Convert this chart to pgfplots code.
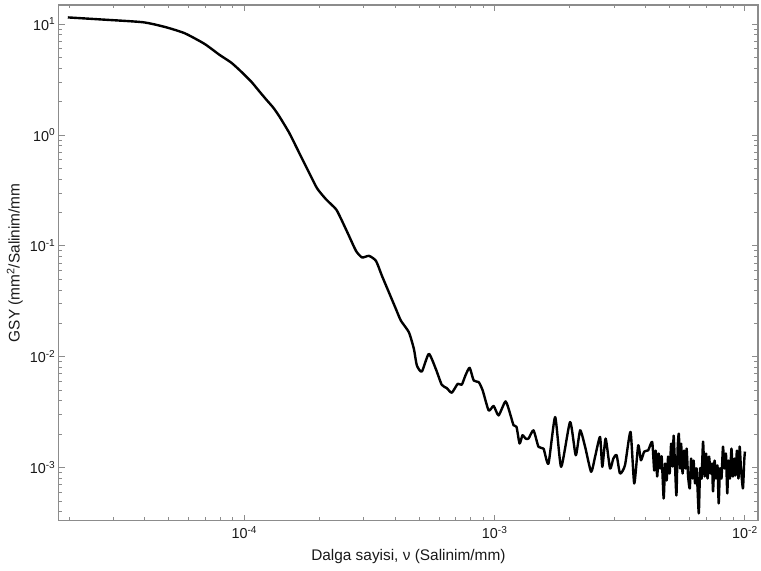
\documentclass[border=0pt]{standalone}
\usepackage{fontspec}
\setmainfont{Liberation Sans}
\usepackage{pgfplots}
\usepackage{pgfplotstable}
\pgfplotsset{compat=1.18}
\definecolor{axgray}{HTML}{8C8C8C}

% power spectral density
\pgfplotstableread{
x y
1.971e-5 11.51
2.644e-5 11.05
3.924e-5 10.42
4.800e-5 9.46
5.768e-5 8.30
6.929e-5 6.65
7.950e-5 5.30
8.875e-5 4.49
9.73e-5 3.72
1.066e-4 3.03
1.148e-4 2.477
1.224e-4 2.086
1.305e-4 1.767
1.379e-4 1.476
1.511e-4 1.047
1.656e-4 0.692
1.815e-4 0.457
1.954e-4 0.330
2.121e-4 0.263
2.326e-4 0.2138
2.457e-4 0.1678
2.620e-4 0.1230
2.794e-4 0.0901
2.952e-4 0.0787
3.148e-4 0.0813
3.357e-4 0.0733
3.547e-4 0.0537
3.782e-4 0.0381
4.033e-4 0.02697
4.222e-4 0.02116
4.544e-4 0.01664
4.757e-4 0.01178
4.890e-4 0.00834
5.120e-4 0.00736
5.458e-4 0.01062
5.819e-4 0.00778
6.149e-4 0.00559
6.438e-4 0.00522
6.741e-4 0.00474
7.122e-4 0.00571
7.388e-4 0.00559
7.664e-4 0.00688
7.950e-4 0.00795
8.248e-4 0.00611
8.636e-4 0.00591
8.959e-4 0.00497
9.465e-4 0.00328
9.908e-4 0.00360
1.037e-3 0.00296
1.106e-3 0.00396
1.158e-3 0.00296
1.190e-3 0.00241
1.223e-3 0.00233
1.258e-3 0.00165
1.292e-3 0.00196
1.329e-3 0.00183
1.366e-3 0.00183
1.430e-3 0.00217
1.497e-3 0.00154
1.568e-3 0.001485
1.641e-3 0.001089
1.745e-3 0.00286
1.844e-3 0.001017
2.002e-3 0.00258
2.109e-3 0.001293
2.196e-3 0.00217
2.299e-3 0.00154
2.429e-3 0.000917
2.519e-3 0.001251
2.637e-3 0.001892
2.693e-3 0.001017
2.776e-3 0.00183
2.891e-3 0.000982
2.980e-3 0.001208
3.072e-3 0.001293
3.169e-3 0.000885
3.317e-3 0.001051
3.491e-3 0.00210
3.612e-3 0.000719
3.747e-3 0.001590
3.842e-3 0.001165
3.959e-3 0.001396
4.107e-3 0.001434
4.261e-3 0.001706
4.341e-3 9.42e-4
4.400e-3 1.425e-3
4.461e-3 8.32e-4
4.523e-3 1.339e-3
4.586e-3 9.82e-4
4.649e-3 1.258e-3
4.735e-3 5.27e-4
4.800e-3 1.089e-3
4.867e-3 7.66e-4
4.934e-3 1.258e-3
5.003e-3 8.85e-4
5.072e-3 1.647e-3
5.143e-3 1.023e-3
5.190e-3 1.944e-3
5.262e-3 9.82e-4
5.325e-3 5.61e-4
5.384e-3 1.485e-3
5.444e-3 2.025e-3
5.508e-3 9.82e-4
5.559e-3 1.647e-3
5.636e-3 8.85e-4
5.715e-3 1.425e-3
5.794e-3 9.82e-4
5.847e-3 1.485e-3
5.928e-3 8.32e-4
6.022e-3 6.49e-4
6.094e-3 1.207e-3
6.178e-3 7.98e-4
6.235e-3 1.158e-3
6.322e-3 7.19e-4
6.410e-3 9.82e-4
6.540e-3 3.87e-4
6.619e-3 9.82e-4
6.711e-3 7.98e-4
6.804e-3 1.717e-3
6.898e-3 8.32e-4
6.994e-3 1.339e-3
7.091e-3 7.98e-4
7.189e-3 1.258e-3
7.288e-3 8.85e-4
7.389e-3 1.089e-3
7.457e-3 6.10e-4
7.560e-3 1.158e-3
7.664e-3 7.98e-4
7.770e-3 1.044e-3
7.856e-3 4.76e-4
7.950e-3 9.82e-4
8.060e-3 7.98e-4
8.171e-3 1.548e-3
8.284e-3 9.82e-4
8.398e-3 1.339e-3
8.500e-3 5.85e-4
8.594e-3 1.158e-3
8.712e-3 7.98e-4
8.834e-3 1.485e-3
8.955e-3 8.32e-4
9.080e-3 1.207e-3
9.164e-3 8.49e-4
9.292e-3 1.425e-3
9.421e-3 7.98e-4
9.526e-3 1.548e-3
9.641e-3 9.82e-4
9.818e-3 6.49e-4
9.936e-3 1.158e-3
1.000e-2 1.396e-3
}\gsy

\begin{document}
\begin{tikzpicture}
\begin{loglogaxis}[
  scale only axis, width=701bp, height=517bp,
  xmin=1.815e-5, xmax=1.127e-2, ymin=3.33e-4, ymax=14.9,
  axis line style={axgray, line width=1.3bp},
  every tick/.style={axgray, line width=1bp},
  tick align=inside,
  major tick length=6bp, minor tick length=3.5bp,
  xtick={1e-4,1e-3,1e-2},
  xticklabels={10\textsuperscript{-4},10\textsuperscript{-3},10\textsuperscript{-2}},
  minor xtick={2e-5,3e-5,4e-5,5e-5,6e-5,7e-5,8e-5,9e-5,
    2e-4,3e-4,4e-4,5e-4,6e-4,7e-4,8e-4,9e-4,
    2e-3,3e-3,4e-3,5e-3,6e-3,7e-3,8e-3,9e-3},
  ytick={1e-3,1e-2,1e-1,1,10},
  yticklabels={10\textsuperscript{-3},10\textsuperscript{-2},10\textsuperscript{-1},10\textsuperscript{0},10\textsuperscript{1}},
  minor ytick={4e-4,5e-4,6e-4,7e-4,8e-4,9e-4,
    2e-3,3e-3,4e-3,5e-3,6e-3,7e-3,8e-3,9e-3,
    2e-2,3e-2,4e-2,5e-2,6e-2,7e-2,8e-2,9e-2,
    0.2,0.3,0.4,0.5,0.6,0.7,0.8,0.9,
    2,3,4,5,6,7,8,9},
  tick label style={font=\fontsize{14.5}{15}\selectfont, text=black!90},
  xticklabel style={yshift=-2bp},
  label style={font=\fontsize{15.5}{16}\selectfont, text=black!90},
  xlabel={Dalga sayisi, ν (Salinim/mm)},
  ylabel={GSY (mm\textsuperscript{2}/Salinim/mm},
  xlabel style={at={(axis description cs:0.5,-0.0696)}, anchor=center},
  ylabel style={at={(axis description cs:-0.0628,0.5)}, anchor=center},
]
\addplot[black, line width=2.4bp, line join=round, smooth, tension=0.35, mark=none] table[x=x, y=y] {\gsy};
\end{loglogaxis}
\path (current axis.south west) ++(-59bp,-50bp);
\path (current axis.north east) ++(1bp,5bp);
\end{tikzpicture}
\end{document}
